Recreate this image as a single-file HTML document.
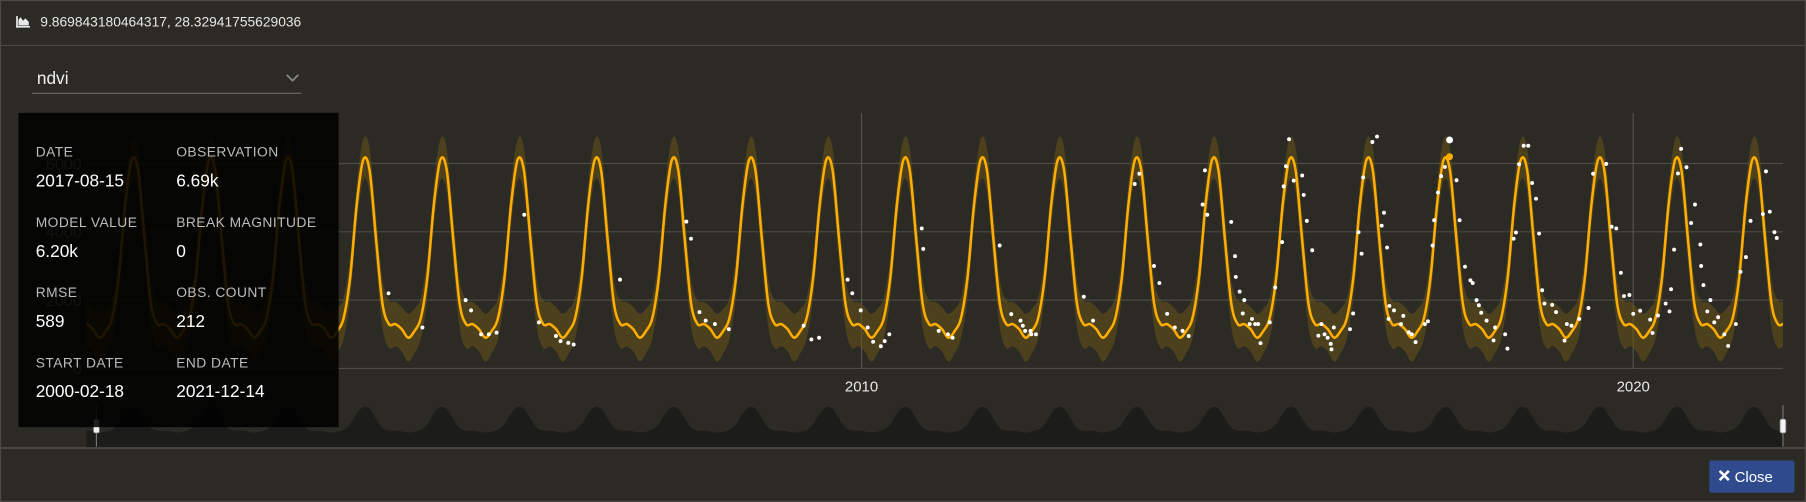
<!DOCTYPE html>
<html><head><meta charset="utf-8">
<style>
html,body{margin:0;padding:0;background:#2a2924;overflow:hidden}
svg{display:block}
text{font-family:"Liberation Sans",sans-serif}
</style></head>
<body>
<svg id="root" width="1806" height="502" viewBox="0 0 1568 436" preserveAspectRatio="none" xmlns="http://www.w3.org/2000/svg">
  <defs>
    <clipPath id="plotclip"><rect x="75" y="90" width="1473" height="240"/></clipPath>
    <clipPath id="navclip"><rect x="75" y="345" width="1473" height="44"/></clipPath>
  </defs>
  <rect x="0" y="0" width="1568" height="436" fill="#2b2a25"/>
  <rect x="0.5" y="0.5" width="1567" height="435" fill="none" stroke="#4a4942"/>
  <!-- header -->
  <g>
    <g fill="#e8e8e8">
      <rect x="14" y="14" width="1.5" height="10"/>
      <rect x="14" y="22.5" width="12" height="1.5"/>
      <path d="M16 22 L16 17 L18 15 L20 18 L22 16 L25 19 L25 22 Z"/>
    </g>
    <text x="35" y="23" font-size="12" fill="#e6e6e6">9.869843180464317, 28.32941755629036</text>
    <rect x="1" y="39" width="1566" height="1" fill="#4a4942"/>
  </g>
  <!-- dropdown -->
  <g>
    <text x="32" y="73" font-size="15" fill="#f0f0f0">ndvi</text>
    <path d="M249 65 L254 70 L259 65" fill="none" stroke="#8a8a85" stroke-width="1.5"/>
    <rect x="28" y="80.5" width="234" height="1" fill="#6a6a64"/>
  </g>
  <!-- plot -->
  <g id="grid"></g>
  <g id="ylabels"></g>
  <g id="plot" clip-path="url(#plotclip)"></g>
  <g id="xlabels"></g>
  <g id="nav"></g>
  <rect x="1" y="388.5" width="1566" height="1.2" fill="#55544d"/>
  <!-- info panel -->
  <g>
    <rect x="16" y="98" width="278" height="273" fill="#000" fill-opacity="0.88"/>
    <g font-size="12" fill="#bdbdbd" letter-spacing="0.4">
      <text x="31" y="136">DATE</text>
      <text x="153" y="136">OBSERVATION</text>
      <text x="31" y="197">MODEL VALUE</text>
      <text x="153" y="197">BREAK MAGNITUDE</text>
      <text x="31" y="258">RMSE</text>
      <text x="153" y="258">OBS. COUNT</text>
      <text x="31" y="319">START DATE</text>
      <text x="153" y="319">END DATE</text>
    </g>
    <g font-size="15" fill="#ffffff">
      <text x="31" y="162">2017-08-15</text>
      <text x="153" y="162">6.69k</text>
      <text x="31" y="223">6.20k</text>
      <text x="153" y="223">0</text>
      <text x="31" y="284">589</text>
      <text x="153" y="284">212</text>
      <text x="31" y="345">2000-02-18</text>
      <text x="153" y="345">2021-12-14</text>
    </g>
  </g>
  <!-- close button -->
  <g>
    <rect x="1484" y="400" width="74" height="28" rx="2" fill="#2f4b8d"/>
    <path d="M1493 409 L1501 417 M1501 409 L1493 417" stroke="#fff" stroke-width="2.2"/>
    <text x="1506" y="418.5" font-size="13" fill="#fff">Close</text>
  </g>
</svg>
<script>
// ---- data ----
const yTicks = [0, 2000, 4000, 6000];
const xTickYears = [2010, 2020];
const xTickLabels = ["2010", "2020"];
const startYear = 2000.13, endYear = 2021.95;
// seasonal model profile: value at mid-month, Jan..Dec
const modelProfile = [1150, 900, 1100, 1500, 2700, 4800, 6100, 5800, 3800, 1900, 1300, 1300];
// model uncertainty half-width per month
const uncProfile = [650, 700, 650, 600, 600, 600, 600, 650, 700, 700, 700, 650];
const obsT = [2003.87,2004.31,2004.87,2004.94,2005.07,2005.17,2005.27,2005.63,2005.82,2006.04,2006.1,2006.2,2006.27,2006.87,2007.73,2007.79,2007.9,2007.98,2008.1,2008.28,2009.25,2009.35,2009.45,
2009.82,2009.88,2009.99,2010.08,2010.15,2010.25,2010.3,2010.36,2010.78,2010.8,2011.0,2011.12,2011.18,2011.79,2011.94,2012.09,2012.19,2012.26,2012.06,2012.12,2012.2,2012.88,2013.0,
2013.54,2013.6,2013.79,2013.86,2013.96,2014.06,2014.16,2014.24,2014.45,2014.48,2014.42,
2014.79,2014.84,2014.85,2014.9,2014.94,2014.96,2015.03,2015.06,2015.1,2015.14,2015.17,2015.29,2015.36,
2015.45,2015.47,2015.5,2015.54,2015.6,2015.71,2015.73,2015.77,2015.84,2015.92,2015.96,2016.0,2016.04,2016.08,2016.09,2016.12,2016.33,2016.37,
2016.44,2016.48,2016.5,2016.62,2016.68,2016.74,2016.77,2016.81,2016.84,2016.9,2017.02,2016.83,2016.99,2017.09,2017.13,2017.18,2017.3,2017.34,
2017.4,2017.42,2017.47,2017.51,2017.56,2017.71,2017.75,2017.82,2017.89,2017.92,2018.03,2017.97,2018.0,2018.1,2018.19,2018.21,2018.37,2018.34,
2018.45,2018.48,2018.52,2018.58,2018.64,2018.69,2018.74,2018.78,2018.82,2018.85,2018.95,2019.14,2019.0,2019.11,2019.2,2019.3,2019.42,
2019.48,2019.65,2019.72,2019.78,2019.84,2019.88,2019.95,2020.0,2020.09,2020.22,2020.25,2020.32,2020.42,2020.47,2020.49,
2020.53,2020.58,2020.62,2020.69,2020.75,2020.8,2020.87,2020.88,2020.91,2021.0,2020.96,2021.05,2021.1,2021.18,2021.23,2021.33,
2021.39,2021.46,2021.52,2021.68,2021.72,2021.77,2021.83,2021.86];
const obsV = [2200,1200,2000,1700,1000,1000,1050,4500,1350,950,800,750,700,2600,4300,3800,1650,1400,1300,1150,1250,850,900,
2600,2200,1700,1200,780,650,800,1000,4100,3500,1100,1000,900,3600,1590,1250,1100,1000,1400,1100,1000,2100,1400,
5400,5700,3000,2500,1600,1200,1100,950,5800,4500,4800,
4290,3290,2680,2250,1610,2000,1300,1450,1300,1300,740,1350,2370,
3700,5330,5920,6710,5500,5650,5080,4320,3460,960,1300,1000,900,720,560,1200,1150,1610,
3990,3360,5590,6630,6790,4180,4560,3540,1830,1700,1540,1450,1300,1060,1000,770,1300,1380,
3600,4340,5150,5630,5900,5510,4340,2980,2580,2500,1630,2000,1850,1400,820,1200,580,1000,
3800,3980,5980,6520,6520,5430,4970,3950,2290,1900,1860,1300,1650,815,1250,1450,1770,
5700,5990,4150,4100,2800,2120,2150,1600,1690,1430,1040,1550,1900,1670,2320,
3480,5710,6430,5890,4260,4800,3630,3000,2440,2000,1670,1350,1500,1000,660,1300,
2830,3260,4320,4520,5770,4590,3990,3820];
const highlightT = 2017.62, highlightObs = 6690, highlightModel = 6200;

// ---- scales ----
const X0 = 78, PX_PER_YEAR = 67;
function xs(t){ return X0 + (t - 2000) * PX_PER_YEAR; }
function ys(v){ return 320 - v / 2000 * 59.33; }
function yn(v){ return 388 - v / 6200 * 35; }

const NS = "http://www.w3.org/2000/svg";
function mk(tag, attrs, parent){ const e=document.createElementNS(NS,tag); for(const k in attrs) e.setAttribute(k,attrs[k]); parent.appendChild(e); return e; }

// model sample points (monthly)
const pts = [];
for (let y = 1999; y <= 2022; y++) {
  for (let m = 0; m < 12; m++) {
    const t = y + (m + 0.5) / 12;
    pts.push({t, v: modelProfile[m], u: uncProfile[m]});
  }
}
function spline(arr){ // arr of [x,y]
  let d = "M" + arr[0][0].toFixed(2) + " " + arr[0][1].toFixed(2);
  for (let i = 0; i < arr.length - 1; i++) {
    const p0 = arr[Math.max(0,i-1)], p1 = arr[i], p2 = arr[i+1], p3 = arr[Math.min(arr.length-1,i+2)];
    const c1x = p1[0] + (p2[0]-p0[0])/6, c1y = p1[1] + (p2[1]-p0[1])/6;
    const c2x = p2[0] - (p3[0]-p1[0])/6, c2y = p2[1] - (p3[1]-p1[1])/6;
    d += " C" + c1x.toFixed(2)+" "+c1y.toFixed(2)+" "+c2x.toFixed(2)+" "+c2y.toFixed(2)+" "+p2[0].toFixed(2)+" "+p2[1].toFixed(2);
  }
  return d;
}

// grid
const grid = document.getElementById('grid');
yTicks.forEach(v => {
  const l = mk('line',{x1:75,x2:1548,y1:ys(v),y2:ys(v),stroke:'#4b4a44','stroke-width':1},grid);
  
  
});
xTickYears.forEach(t => {
  const l = mk('line',{x1:xs(t),x2:xs(t),y1:98,y2:320,stroke:'#55544e','stroke-width':1},grid);
  
  
});
const yl = document.getElementById('ylabels');
yTicks.forEach(v => {
  const t = mk('text',{x:71,y:ys(v)+5,'text-anchor':'end','font-size':14,fill:'#8a8a85'},yl);
  t.textContent = String(v);
  
  
});
const xl = document.getElementById('xlabels');
xTickYears.forEach((t,i) => {
  const e = mk('text',{x:xs(t),y:340,'text-anchor':'middle','font-size':13,fill:'#e8e8e8'},xl);
  e.textContent = xTickLabels[i];
  
  
});

// band + model
const plot = document.getElementById('plot');
const up = pts.map(p => [xs(p.t), ys(p.v + p.u)]);
const lo = pts.map(p => [xs(p.t), ys(p.v - p.u)]).reverse();
const bandD = spline(up) + " L" + lo[0][0] + " " + lo[0][1] + spline(lo).replace(/^M[^C]*/, " ") + " Z";
const band = mk('path',{d:bandD,fill:'#6a5418','fill-opacity':0.55},plot);


const line = mk('path',{d:spline(pts.map(p=>[xs(p.t),ys(p.v)])),fill:'none',stroke:'#ffad00','stroke-width':2.2},plot);



// observations
obsT.forEach((t,i) => {
  const c = mk('circle',{cx:xs(t),cy:ys(obsV[i]),r:1.7,fill:'#ffffff'},plot);
  
  
});
const hm = mk('circle',{cx:xs(highlightT),cy:ys(highlightModel),r:3,fill:'#ffad00'},plot);


const ho = mk('circle',{cx:xs(highlightT),cy:ys(highlightObs),r:3,fill:'#ffffff'},plot);



// navigator
const nav = document.getElementById('nav');
const navG = mk('g',{'clip-path':'url(#navclip)'},nav);
const navPts = pts.map(p=>[xs(p.t), yn(p.v*0.75+1500)]);
const navD = spline(navPts) + " L" + navPts[navPts.length-1][0] + " 389 L" + navPts[0][0] + " 389 Z";
const na = mk('path',{d:navD,fill:'#1c1c1b'},navG);


[[xs(startYear)-3,'navigator-left-handle'],[1548,'navigator-right-handle']].forEach(([x,n])=>{
  mk('line',{x1:x,x2:x,y1:352,y2:388,stroke:'#777','stroke-width':1},nav);
  const h = mk('rect',{x:x-2.5,y:364,width:5,height:12,rx:1.5,fill:'#f2f2f2',stroke:'#888','stroke-width':0.7},nav);
  
  
});
</script>
</body></html>
